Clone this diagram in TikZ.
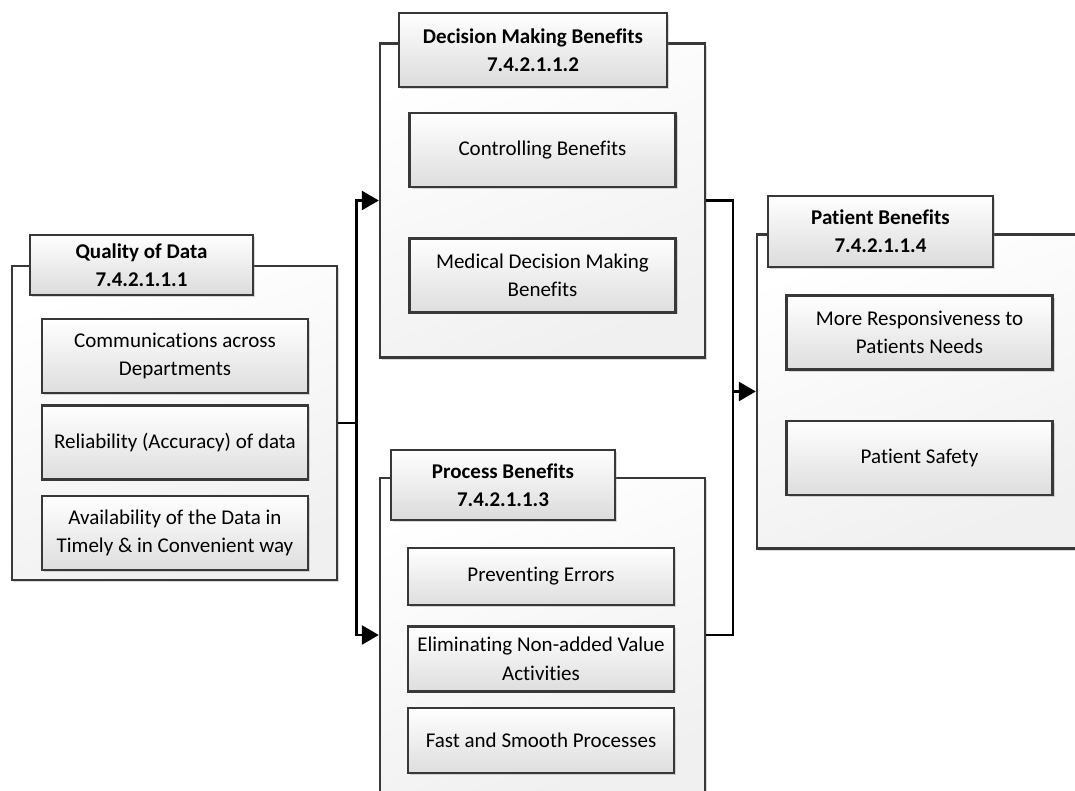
\documentclass[tikz,border=0pt]{standalone}
\usepackage{fontspec}
\setmainfont{Carlito}[Ligatures=CommonOff]
\usetikzlibrary{arrows.meta, positioning, shadows}

\begin{document}
\begin{tikzpicture}[x=1pt, y=-1pt, node distance=10pt,
  frame/.style={draw=black!78, line width=2.4pt, top color=white, bottom color=black!6, shading angle=20, minimum width=325pt, minimum height=314pt, drop shadow={shadow xshift=2pt, shadow yshift=-2pt, opacity=.3}},
  headbox/.style={draw=black!78, line width=2.4pt, top color=white, bottom color=black!14, align=center, font=\fontsize{21}{28}\selectfont\bfseries, inner sep=0pt, drop shadow={shadow xshift=2pt, shadow yshift=-2pt, opacity=.3}},
  item/.style={draw=black!78, line width=2.4pt, top color=white, bottom color=black!13, align=center, font=\fontsize{21}{28.5}\selectfont, minimum width=266pt, minimum height=74pt, inner sep=0pt, drop shadow={shadow xshift=2pt, shadow yshift=-2pt, opacity=.3}},
  link/.style={line width=2.6pt, black},
  arrow/.style={link, -{Triangle[length=17pt, width=19pt]}}]

\useasboundingbox (0,0) rectangle (1075,790);

% frames
\node[frame] (qualityFrame) at (174.5,423) {};
\node[frame] (decisionFrame) at (542.5,200.5) {};
\node[frame] (processFrame) at (542.5,635) {};
\node[frame] (patientFrame) at (919.5,391.5) {};

% headings
\node[headbox, minimum width=223pt, minimum height=60pt] (qualityHead) at (141.5,265) {Quality of Data\\7.4.2.1.1.1};
\node[headbox, minimum width=268pt, minimum height=74pt] (decisionHead) at (533,50) {Decision Making Benefits\\7.4.2.1.1.2};
\node[headbox, minimum width=224pt, minimum height=70pt] (processHead) at (503,485) {Process Benefits\\7.4.2.1.1.3};
\node[headbox, minimum width=225pt, minimum height=71pt] (patientHead) at (880.5,231.5) {Patient Benefits\\7.4.2.1.1.4};

% items
\node[item] (comm) at (175,356) {Communications across\\Departments};
\node[item, below=of comm] (reliab) {Reliability (Accuracy) of data};
\node[item, below=14pt of reliab] (avail) {Availability of the Data in\\Timely \& in Convenient way};

\node[item] (control) at (542.5,150) {Controlling Benefits};
\node[item, below=49pt of control] (medical) {Medical Decision Making\\Benefits};

\node[item, minimum height=57pt] (errors) at (541,576.5) {Preventing Errors};
\node[item, minimum height=65pt, below=19pt of errors] (elim) {Eliminating Non-added Value\\Activities};
\node[item, minimum height=65pt, below=14pt of elim] (fast) {Fast and Smooth Processes};

\node[item] (respons) at (919.5,332.5) {More Responsiveness to\\Patients Needs};
\node[item, below=49pt of respons] (safety) {Patient Safety};

% connectors
\draw[link] (qualityFrame.east) -- ++(18,0) coordinate (split);
\draw[arrow] (split) |- (decisionFrame.west);
\draw[arrow] (split) |- (processFrame.west);
\coordinate (merge) at (733,391.5);
\draw[link] (decisionFrame.east) -| (merge);
\draw[link] (processFrame.east) -| (merge);
\draw[arrow] (merge) -- (patientFrame.west);

\end{tikzpicture}
\end{document}
